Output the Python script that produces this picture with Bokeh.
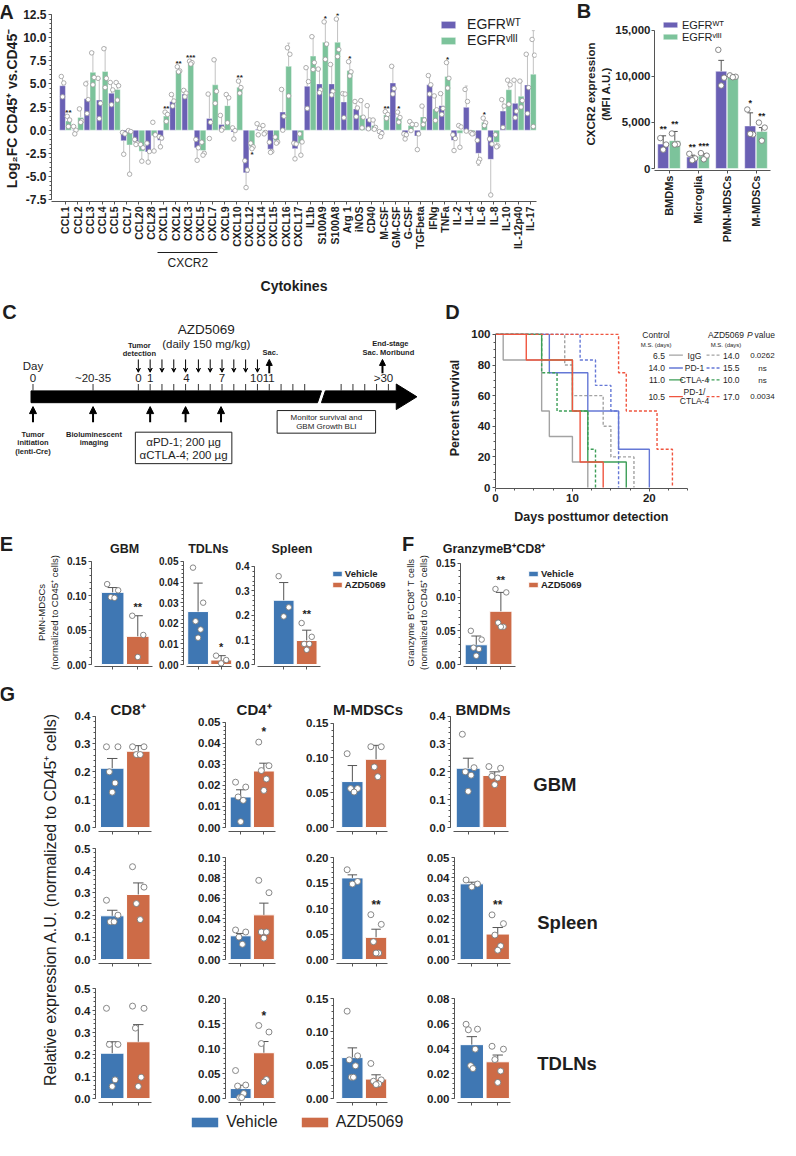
import numpy as np
from bokeh.plotting import figure
from bokeh.models import (Range1d, FixedTicker, LinearAxis, Label, Legend, LegendItem,
                          ColumnDataSource, Arrow, NormalHead, VeeHead, NumeralTickFormatter)
from bokeh.layouts import row, column
from bokeh.embed import file_html
from bokeh.resources import INLINE
from bokeh.core.properties import value

# ======================= DATA =======================
# ---- Panel A ----
A_cytokines = ["CCL1", "CCL2", "CCL3", "CCL4", "CCL5", "CCL7", "CCL20", "CCL28",
               "CXCL1", "CXCL2", "CXCL3", "CXCL5", "CXCL7", "CXCL9", "CXCL10", "CXCL12",
               "CXCL14", "CXCL15", "CXCL16", "CXCL17", "IL1b", "S100A9", "S100A8", "Arg 1",
               "iNOS", "CD40", "M-CSF", "GM-CSF", "G-CSF", "TGFbeta", "IFNg", "TNFa",
               "IL-2", "IL-4", "IL-6", "IL-8", "IL-10", "IL-12p40", "IL-17"]
A_wt_mean = [4.8, 0.05, 3.4, 3.25, 4.0, -1.15, -1.3, -2.35, -1.1, 3.1, 3.9, -1.9, 1.27, 0.6,
             -0.2, -4.6, 0.1, -2.05, 1.96, -2.0, 4.75, 5.0, 5.0, 3.05, 2.3, 1.27, -0.4, 5.1,
             -0.6, -0.62, 4.9, 2.65, -1.1, 2.47, -2.5, -3.15, 2.06, 2.9, 4.88]
A_wt_err = [1.0, 0.4, 1.9, 2.3, 1.1, 1.4, 0.3, 1.0, 0.5, 0.6, 0.5, 1.2, 2.6, 1.0, 0.8, 1.6,
            0.6, 0.4, 2.4, 1.1, 2.0, 1.6, 2.1, 0.9, 0.8, 1.35, 0.3, 1.8, 0.3, 1.5, 1.0, 1.3,
            1.1, 2.3, 1.3, 3.8, 1.3, 2.5, 3.3]
A_wt_points = [[5.8, 5.1, 3.6], [0.4, 0.0, -0.4], [5.0, 3.3, 1.8], [5.6, 2.9, 1.25],
               [5.15, 4.35, 2.75], [-0.25, -0.4, -2.6], [-1.0, -1.4, -1.55], [-1.4, -2.3, -3.45],
               [-0.7, -0.85, -1.8], [3.85, 3.15, 2.6], [4.3, 4.0, 3.6], [-1.0, -1.9, -3.25],
               [3.9, 0.85, -0.9], [1.6, 0.2, 0.0], [0.25, -0.05, -0.95], [-3.3, -4.3, -6.2],
               [0.7, 0.2, -0.5], [-1.3, -2.3, -2.4], [4.4, 1.5, 0.0], [-1.4, -1.5, -3.1],
               [6.75, 5.25, 2.35], [6.6, 4.35, 4.05], [7.1, 4.2, 3.8], [3.95, 3.9, 1.35],
               [3.1, 2.4, 1.45], [2.65, 1.1, 0.15], [-0.15, -0.35, -0.7], [6.9, 4.5, 3.9],
               [-0.4, -0.5, -0.95], [0.6, -0.4, -2.1], [5.9, 4.9, 3.9], [3.95, 2.35, 1.7],
               [-0.5, -0.9, -2.2], [4.4, 3.1, -0.1], [-1.1, -3.15, -3.45], [-0.95, -1.5, -7.0],
               [3.3, 2.6, 0.3], [5.4, 2.05, 1.35], [8.2, 4.6, 1.8]]
A_viii_mean = [1.0, 1.38, 6.25, 6.35, 4.4, -1.6, -2.27, -0.6, 1.52, 6.45, 7.25, -2.2, 4.9, 2.65,
               4.64, -1.75, -0.05, -1.15, 6.9, -1.45, 8.0, 9.5, 9.5, 6.45, 1.6, 0.5, 1.65, 1.4,
               0.5, 1.43, 2.3, 5.8, -0.33, -0.34, 0.86, -1.3, 4.37, 3.67, 6.05]
A_viii_err = [0.5, 1.0, 2.2, 2.6, 0.8, 3.1, 1.1, 1.7, 0.4, 0.4, 0.2, 0.4, 2.7, 1.2, 0.6, 0.2,
              0.4, 0.2, 2.5, 1.2, 2.1, 2.2, 2.5, 0.9, 1.6, 0.6, 0.3, 0.5, 0.4, 1.1, 1.3, 1.5,
              1.5, 0.1, 0.4, 0.5, 1.0, 1.6, 4.7]
A_viii_points = [[1.5, 1.1, 0.4], [2.3, 1.0, 0.85], [8.35, 5.7, 4.9], [8.8, 5.6, 4.6],
                 [5.15, 4.8, 3.25], [-0.05, -0.15, -4.75], [-1.55, -1.9, -3.35], [0.85, -0.5, -2.25],
                 [1.95, 1.7, 0.95], [6.85, 6.4, 6.3], [7.45, 7.3, 7.15], [-1.3, -2.5, -2.7],
                 [7.6, 4.2, 2.9], [3.85, 3.5, 0.8], [5.3, 4.6, 4.0], [-1.4, -1.8, -2.0],
                 [0.5, -0.25, -0.4], [-0.75, -1.27, -1.4], [8.9, 8.2, 3.7], [-0.4, -1.27, -2.7],
                 [10.1, 7.3, 6.55], [11.7, 9.3, 7.65], [12.0, 8.7, 7.95], [7.4, 6.3, 5.85],
                 [3.2, 1.4, 0.25], [1.1, 0.3, 0.1], [2.0, 1.7, 1.27], [1.95, 1.37, 0.86],
                 [0.93, 0.62, -0.05], [2.6, 1.1, 0.6], [3.7, 2.2, 1.05], [7.3, 5.6, 4.55],
                 [0.5, 0.35, -1.85], [-0.25, -0.35, -0.4], [1.3, 0.8, 0.5], [-0.5, -1.7, -1.8],
                 [5.4, 4.9, 2.8], [5.3, 3.2, 2.5], [9.8, 8.1, 0.4]]
A_viii_stars = {0: "**", 8: "**", 9: "**", 10: "***", 14: "**", 15: "*", 21: "*", 22: "*",
                23: "*", 26: "**", 27: "*", 31: "*", 34: "*"}
A_group = ["CXCL1", "CXCL7"]   # bracket "CXCR2" spans these categories

# ---- Panel B ----
B_cells = ["BMDMs", "Microglia", "PMN-MDSCs", "M-MDSCs"]
B_wt_mean = [2650, 1250, 10550, 4620]
B_wt_err = [900, 200, 1180, 1420]
B_wt_pts = [[3300, 2600, 2050], [1600, 1100, 900], [12870, 9850, 9000], [6400, 3700, 3760]]
B_viii_mean = [3020, 1350, 10020, 4020]
B_viii_err = [1000, 250, 150, 420]
B_viii_pts = [[3800, 2650, 2600], [1670, 1400, 1000], [10100, 9950, 9900], [4980, 4440, 3020]]
B_wt_stars = ["**", "**", "", "*"]
B_viii_stars = ["**", "***", "", "**"]

# ---- Panel C (timeline schematic) ----
C_day_labels = ["0", "~20-35", "0", "1", "4", "7", "1011", ">30"]
C_day_pos = [37, 98, 144, 156, 193, 229, 270, 393]
C_dose_pos = [144, 156, 168, 180, 192, 205, 217, 229, 241, 253, 265]
C_tick_pos = [37, 98, 144, 156, 168, 180, 192, 205, 217, 229, 241, 253, 265, 277, 289, 301,
              313, 350, 362, 374, 386, 398]
C_treat_pos = [37, 98, 156, 192, 228]

# ---- Panel D (survival) ----
D_groups = ["IgG", "PD-1", "CTLA-4", "PD-1/CTLA-4"]
D_colors = ["#a3a3a3", "#6578d6", "#3c9e57", "#f0553f"]
D_ctrl_days = [[0, 1, 6, 7, 10, 12], [0, 7, 12, 16, 20], [0, 6, 10, 12, 17], [0, 4, 10, 11, 14]]
D_ctrl_surv = [[100, 83.3, 50, 33.3, 16.7, 0], [100, 75, 50, 25, 0], [100, 83.3, 50, 16.7, 0],
               [100, 83.3, 50, 16.7, 0]]
D_azd_days = [[0, 9, 10, 14, 15, 18], [0, 11, 13, 15, 16], [0, 6, 8, 12, 13], [0, 16, 17, 21, 23]]
D_azd_surv = [[100, 80, 60, 40, 20, 0], [100, 83.3, 66.7, 50, 0], [100, 75, 50, 25, 0],
              [100, 75, 50, 25, 0]]
D_ctrl_ms = ["6.5", "14.0", "11.0", "10.5"]
D_azd_ms = ["14.0", "15.5", "10.0", "17.0"]
D_pvals = ["0.0262", "ns", "ns", "0.0034"]

# ---- Panel E ----
E_tissues = ["GBM", "TDLNs", "Spleen"]
E_veh_mean = [0.105, 0.0257, 0.262]
E_veh_err = [0.007, 0.0138, 0.072]
E_veh_pts = [[0.117, 0.108, 0.098, 0.097], [0.047, 0.030, 0.021, 0.017, 0.013], [0.36, 0.233, 0.196]]
E_azd_mean = [0.041, 0.0022, 0.098]
E_azd_err = [0.030, 0.0021, 0.042]
E_azd_pts = [[0.071, 0.043, 0.011], [0.0043, 0.0022, 0.0006], [0.169, 0.113, 0.084, 0.084, 0.060]]
E_azd_stars = ["**", "*", "**"]
E_ymax = [0.15, 0.05, 0.4]
E_ystep = [0.05, 0.01, 0.1]

# ---- Panel F ----
F_veh_mean, F_veh_err = 0.0293, 0.013
F_veh_pts = [0.050, 0.037, 0.025, 0.023, 0.013]
F_azd_mean, F_azd_err = 0.079, 0.028
F_azd_pts = [0.112, 0.107, 0.062, 0.056, 0.056]
F_star = "**"

# ---- Panel G ----
G_cells = ["CD8⁺", "CD4⁺", "M-MDSCs", "BMDMs"]
G_tissues = ["GBM", "Spleen", "TDLNs"]
G_veh_mean = [[0.213, 0.0145, 0.066, 0.213], [0.197, 0.0233, 0.160, 0.0371], [0.206, 0.020, 0.0614, 0.0431]]
G_veh_err = [[0.035, 0.0034, 0.023, 0.036], [0.025, 0.0023, 0.006, 0.0008], [0.052, 0.0066, 0.0146, 0.0064]]
G_veh_pts = [
    [[0.29, 0.29, 0.20, 0.16, 0.127], [0.0215, 0.0192, 0.0145, 0.0129, 0.0028], [0.106, 0.056, 0.056, 0.051], [0.335, 0.215, 0.20, 0.188, 0.13]],
    [[0.267, 0.20, 0.17, 0.17], [0.029, 0.027, 0.022, 0.015], [0.176, 0.153, 0.148], [0.039, 0.037, 0.0356]],
    [[0.41, 0.246, 0.246, 0.085, 0.055], [0.056, 0.027, 0.025, 0.010, 0.002, 0.002], [0.131, 0.064, 0.058, 0.049, 0.032, 0.032], [0.0594, 0.0555, 0.055, 0.0395, 0.0263, 0.024]],
]
G_azd_mean = [[0.274, 0.0268, 0.098, 0.187], [0.293, 0.0438, 0.0435, 0.0125], [0.258, 0.0916, 0.0292, 0.0294]]
G_azd_err = [[0.020, 0.0037, 0.020, 0.013], [0.052, 0.0115, 0.016, 0.0032], [0.078, 0.0224, 0.0064, 0.0054]]
G_azd_pts = [
    [[0.29, 0.29, 0.262, 0.262], [0.0405, 0.0293, 0.027, 0.023, 0.0176], [0.116, 0.116, 0.087, 0.073], [0.219, 0.213, 0.184, 0.178, 0.154]],
    [[0.418, 0.326, 0.252, 0.18], [0.0776, 0.0655, 0.027, 0.027, 0.021], [0.088, 0.069, 0.035, 0.0128, 0.0128], [0.0219, 0.0176, 0.012, 0.0067, 0.0046]],
    [[0.42, 0.41, 0.32, 0.097, 0.055], [0.146, 0.133, 0.11, 0.038, 0.033], [0.0526, 0.028, 0.026, 0.022, 0.021], [0.0418, 0.0395, 0.0312, 0.022, 0.0129]],
]
G_stars = [["", "*", "", ""], ["", "", "**", "**"], ["", "*", "", ""]]
G_ymax = [[0.4, 0.05, 0.15, 0.4], [0.5, 0.10, 0.20, 0.05], [0.5, 0.20, 0.15, 0.08]]
G_ystep = [[0.1, 0.01, 0.05, 0.1], [0.1, 0.02, 0.05, 0.01], [0.1, 0.05, 0.05, 0.02]]

# ======================= STYLE / LAYOUT =======================
S = 0.985
FONT = "Liberation Sans"
INK = "#1e1e1e"
AXC = "#555555"
WT_C = "#6a60b4"
VIII_C = "#7cc39b"
VEH = "#3f77b3"
AZD = "#cd6b47"


def R(v):
    return int(round((v - 4) * S))


def iso(p):
    """wrap a figure so that its frame is not aligned with its layout siblings"""
    return row(p)


def mkfig(box, frame, xr, yr):
    bx0, bx1, by0, by1 = box
    fx0, fx1, fy0, fy1 = frame
    p = figure(width=R(bx1) - R(bx0), height=R(by1) - R(by0), x_range=xr, y_range=yr,
               output_backend="svg", toolbar_location=None,
               min_border_left=R(fx0) - R(bx0), min_border_right=R(bx1) - R(fx1),
               min_border_top=R(fy0) - R(by0), min_border_bottom=R(by1) - R(fy1))
    p.outline_line_color = None
    p.background_fill_color = "white"
    p.border_fill_color = "white"
    for g in p.grid:
        g.visible = False
    return p


def strip(box):
    """text-only canvas whose data coordinates are the reference pixel coordinates"""
    bx0, bx1, by0, by1 = box
    p = figure(width=R(bx1) - R(bx0), height=R(by1) - R(by0), x_range=Range1d(bx0, bx1),
               y_range=Range1d(by1, by0), x_axis_type=None, y_axis_type=None, min_border=0,
               output_backend="svg", toolbar_location=None)
    p.outline_line_color = None
    p.background_fill_color = "white"
    p.border_fill_color = "white"
    return p


def axis_strip(box, cx, cy, text, size, style="bold", nlines=1):
    """narrow canvas that only carries a vertical axis title centred at (cx, cy)"""
    bx0, bx1, by0, by1 = box
    p = figure(width=R(bx1) - R(bx0), height=R(by1) - R(by0), x_range=Range1d(0, 1),
               y_range=Range1d(0, 1), x_axis_type=None, output_backend="svg",
               toolbar_location=None, min_border_left=R(bx1) - R(bx0) - 1, min_border_right=0,
               min_border_top=R(cy - 10) - R(by0), min_border_bottom=R(by1) - R(cy + 10))
    p.outline_line_color = None
    p.background_fill_color = "white"
    p.border_fill_color = "white"
    for g in p.grid:
        g.visible = False
    ay = p.yaxis[0]
    ay.ticker = FixedTicker(ticks=[])
    ay.axis_line_color = None
    ay.major_tick_line_color = None
    ay.minor_tick_line_color = None
    ay.major_tick_out = 0
    ay.minor_tick_out = 0
    ay.major_label_standoff = 0
    ay.axis_label = text
    ay.axis_label_text_font = FONT
    ay.axis_label_text_font_size = f"{size}px"
    ay.axis_label_text_font_style = style
    ay.axis_label_text_color = INK
    right_edge = cx + nlines * size * 1.2 / 2
    ay.axis_label_standoff = max(0, int(round((bx1 - 1 - right_edge) * S)))
    return p


def lab(p, frame, rx, ry, text, size, style="normal", align="center", baseline="middle",
        angle=0.0, color=INK):
    fx0, fx1, fy0, fy1 = frame
    p.add_layout(Label(x=(rx - fx0) * S, y=(fy1 - ry) * S, x_units="screen", y_units="screen",
                       text=text, angle=angle, text_font=FONT, text_font_size=f"{size}px",
                       text_font_style=style, text_align=align, text_baseline=baseline,
                       text_color=color))


def dtext(p, x, y, text, size, style="normal", align="center", baseline="middle"):
    p.text(x=[x], y=[y], text=[text], text_font=value(FONT),
           text_font_size=f"{size}px", text_font_style=style, text_align=align,
           text_baseline=baseline, text_color=INK)


def style_axis(ax, size="11px", bold=True):
    ax.axis_line_color = AXC
    ax.major_tick_line_color = AXC
    ax.minor_tick_line_color = AXC
    ax.major_tick_out = 3
    ax.major_tick_in = 0
    ax.minor_tick_out = 2
    ax.minor_tick_in = 0
    ax.major_label_text_font = FONT
    ax.major_label_text_font_size = size
    ax.major_label_text_font_style = "bold" if bold else "normal"
    ax.major_label_text_color = INK
    ax.major_label_standoff = 2
    ax.axis_label_text_font = FONT
    ax.axis_label_text_color = INK
    ax.axis_label_text_font_style = "normal"


def spread(n, s):
    base = np.linspace(-s, s, n) if n > 1 else np.array([0.0])
    order, lo, hi = [], 0, n - 1
    while lo <= hi:
        order.append(lo)
        if hi != lo:
            order.append(hi)
        lo += 1
        hi -= 1
    return [base[k] for k in order]


def err_src(xs, means, errs, cap):
    d = dict(x0=[], y0=[], x1=[], y1=[])
    for x, m, e in zip(xs, means, errs):
        end = m + e if m >= 0 else m - e
        d["x0"] += [x, x - cap]
        d["y0"] += [m, end]
        d["x1"] += [x, x + cap]
        d["y1"] += [end, end]
    return ColumnDataSource(d)


def pts_src(xs, pts, s):
    px, py = [], []
    for x, vals in zip(xs, pts):
        for o, v in zip(spread(len(vals), s), vals):
            px.append(x + o)
            py.append(v)
    return ColumnDataSource(dict(x=px, y=py))


def flat_legend(p, items, loc, gw, gh, size, lh, standoff, style="normal", spacing=0,
                orientation="vertical"):
    leg = Legend(items=[LegendItem(label=t, renderers=[r]) for t, r in items], location=loc,
                 orientation=orientation, glyph_width=gw, glyph_height=gh,
                 label_text_font=FONT, label_text_font_size=f"{size}px",
                 label_text_font_style=style, label_text_color=INK, label_height=lh,
                 label_standoff=standoff, spacing=spacing, padding=0, margin=0,
                 border_line_color=None, background_fill_alpha=0)
    p.add_layout(leg)


# ======================= PANEL A =======================
sA1 = strip((4, 24, 4, 26))
dtext(sA1, 10, 15, "A", 20, "bold")
sA2 = axis_strip((4, 24, 26, 304), 15, 114, "Log₂FC CD45⁺ vs.CD45⁻", 14, "bold")

nA = len(A_cytokines)
A_box = (24, 560, 4, 304)
A_frame = (55, 548, 17, 217)
slotA = (548 - 63) / nA
ppuA = (215 - 18) / 20.0
pA = mkfig(A_box, A_frame, Range1d(-0.5 - (63 - 55) / slotA, nA - 0.5),
           Range1d(-7.5 - (217 - 215) / ppuA, 12.5 + (18 - 17) / ppuA))
ia = np.arange(nA)
xw, xv = ia - 0.24, ia + 0.24
rwt = pA.vbar(x=xw, top=A_wt_mean, bottom=0, width=0.47, fill_color=WT_C, line_color="white", line_width=0.4)
rvi = pA.vbar(x=xv, top=A_viii_mean, bottom=0, width=0.47, fill_color=VIII_C, line_color="white", line_width=0.4)
for xs, m, e in ((xw, A_wt_mean, A_wt_err), (xv, A_viii_mean, A_viii_err)):
    pA.segment("x0", "y0", "x1", "y1", source=err_src(xs, m, e, 0.12), line_color="#c2c2c2", line_width=1)
for xs, pts in ((xw, A_wt_points), (xv, A_viii_points)):
    pA.scatter("x", "y", source=pts_src(xs, pts, 0.1), size=4.5, fill_color="white",
               line_color="#9a9a9a", line_width=0.8)
up = dict(x=[], y=[], t=[])
dn = dict(x=[], y=[], t=[])
for i, s in A_viii_stars.items():
    m, e, pts = A_viii_mean[i], A_viii_err[i], A_viii_points[i]
    if m >= 0:
        up["x"].append(xv[i]); up["y"].append(max(max(pts), m + e)); up["t"].append(s)
    else:
        dn["x"].append(xv[i]); dn["y"].append(min(min(pts), m - e)); dn["t"].append(s)
pA.text("x", "y", text="t", source=ColumnDataSource(up), text_font=value(FONT), text_font_size="8px",
        text_font_style="bold", text_align="center", text_baseline="bottom", y_offset=1, text_color=INK)
pA.text("x", "y", text="t", source=ColumnDataSource(dn), text_font=value(FONT), text_font_size="8px",
        text_font_style="bold", text_align="center", text_baseline="top", y_offset=1, text_color=INK)

axA = pA.xaxis[0]
axA.ticker = FixedTicker(ticks=list(range(nA)))
axA.major_label_overrides = {i: c for i, c in enumerate(A_cytokines)}
axA.major_label_orientation = np.pi / 2
style_axis(axA, "10.5px")
ayA = pA.yaxis[0]
ayA.ticker = FixedTicker(ticks=[float(v) for v in np.arange(-7.5, 12.51, 2.5)],
                         minor_ticks=[float(v) for v in np.arange(-7.5, 12.51, 0.5)])
ayA.formatter = NumeralTickFormatter(format="0.0")
ayA.bounds = (-7.5, 12.5)
style_axis(ayA, "12px")

g0, g1 = A_cytokines.index(A_group[0]), A_cytokines.index(A_group[1])
axC = LinearAxis(ticker=FixedTicker(ticks=[(g0 + g1) / 2]),
                 major_label_overrides={(g0 + g1) / 2: "CXCR2"}, bounds=(g0 - 0.45, g1 + 0.45),
                 axis_label="Cytokines")
style_axis(axC, "12px", bold=False)
axC.axis_line_color = INK
axC.major_tick_out = 0
axC.major_label_standoff = 3
axC.axis_label_text_font_size = "14px"
axC.axis_label_text_font_style = "bold"
axC.axis_label_standoff = 5
pA.add_layout(axC, "below")
flat_legend(pA, [("EGFRᵂᵀ", rwt), ("EGFRᵛᴵᴵᴵ", rvi)], ((449 - 55) * S, (217 - 62) * S),
            18, 9, 14, 16, 10)

# ======================= PANEL B =======================
sB1 = strip((560, 625, 4, 30))
dtext(sB1, 596, 14, "B", 20, "bold")
sB2 = axis_strip((560, 625, 30, 304), 611, 99, "CXCR2 expression\n(MFI A.U.)", 11.5, "bold", nlines=2)

B_box = (625, 796, 4, 304)
B_frame = (665, 786, 18, 177)
ppuB = (175 - 34) / 15000.0
pB = mkfig(B_box, B_frame, Range1d(-0.5, 3.5),
           Range1d(-(177 - 175) / ppuB, 15000 + (34 - 18) / ppuB))
ib = np.arange(len(B_cells))
bw, bv = ib - 0.2, ib + 0.2
rbw = pB.vbar(x=bw, top=B_wt_mean, bottom=0, width=0.38, fill_color=WT_C, line_color="white", line_width=0.5)
rbv = pB.vbar(x=bv, top=B_viii_mean, bottom=0, width=0.38, fill_color=VIII_C, line_color="white", line_width=0.5)
for xs, m, e in ((bw, B_wt_mean, B_wt_err), (bv, B_viii_mean, B_viii_err)):
    pB.segment("x0", "y0", "x1", "y1", source=err_src(xs, m, e, 0.1), line_color="#555555", line_width=1)
for xs, pts in ((bw, B_wt_pts), (bv, B_viii_pts)):
    pB.scatter("x", "y", source=pts_src(xs, pts, 0.1), size=5.5, fill_color="white",
               line_color="#7a7a7a", line_width=0.9)
sb = dict(x=[], y=[], t=[])
for xs, m, e, pts, st in ((bw, B_wt_mean, B_wt_err, B_wt_pts, B_wt_stars),
                          (bv, B_viii_mean, B_viii_err, B_viii_pts, B_viii_stars)):
    for k in range(len(xs)):
        if st[k]:
            sb["x"].append(xs[k]); sb["y"].append(max(max(pts[k]), m[k] + e[k])); sb["t"].append(st[k])
pB.text("x", "y", text="t", source=ColumnDataSource(sb), text_font=value(FONT), text_font_size="9px",
        text_font_style="bold", text_align="center", text_baseline="bottom", y_offset=-2, text_color=INK)
axB = pB.xaxis[0]
axB.ticker = FixedTicker(ticks=list(range(len(B_cells))))
axB.major_label_overrides = {i: c for i, c in enumerate(B_cells)}
axB.major_label_orientation = np.pi / 2
style_axis(axB, "11px")
ayB = pB.yaxis[0]
ayB.ticker = FixedTicker(ticks=[0, 5000, 10000, 15000])
ayB.formatter = NumeralTickFormatter(format="0,0")
ayB.bounds = (0, 15000)
style_axis(ayB, "11.5px")
ayB.major_label_standoff = 1
flat_legend(pB, [("EGFRᵂᵀ", rbw), ("EGFRᵛᴵᴵᴵ", rbv)], ((672 - 665) * S, (177 - 48) * S),
            18, 7, 11, 12, 3)

# ======================= PANEL C =======================
pC = strip((4, 455, 304, 542))
pC.patch([35, 330, 326, 35], [400, 400, 412, 412], color="black")
pC.patch([334, 406, 406, 427, 406, 406, 330], [400, 400, 393, 406, 419, 412, 412], color="black")
pC.segment(x0=C_tick_pos, y0=[393] * len(C_tick_pos), x1=C_tick_pos, y1=[400] * len(C_tick_pos),
           line_color="#333333", line_width=1)
dsrc = ColumnDataSource(dict(x0=C_dose_pos, y0=[368] * len(C_dose_pos), x1=C_dose_pos, y1=[381] * len(C_dose_pos)))
pC.add_layout(Arrow(end=VeeHead(size=4, line_color="black", fill_color="black", line_width=1),
                    x_start="x0", y_start="y0", x_end="x1", y_end="y1", source=dsrc,
                    line_color="black", line_width=1))
for xx in (277, 392):
    pC.add_layout(Arrow(end=NormalHead(size=6, line_color="black", fill_color="black"),
                        x_start=xx, y_start=382, x_end=xx, y_end=368, line_width=2, line_color="black"))
tsrc = ColumnDataSource(dict(x0=C_treat_pos, y0=[432] * len(C_treat_pos), x1=C_treat_pos, y1=[416] * len(C_treat_pos)))
pC.add_layout(Arrow(end=NormalHead(size=7, line_color="black", fill_color="black"),
                    x_start="x0", y_start="y0", x_end="x1", y_end="y1", source=tsrc,
                    line_color="black", line_width=2))
pC.text(x=C_day_pos, y=[387] * len(C_day_pos), text=C_day_labels, text_font=value(FONT),
        text_font_size="11.5px", text_align="center", text_baseline="middle", text_color=INK)
dtext(pC, 13, 320, "C", 20, "bold")
dtext(pC, 213, 338, "AZD5069", 13.5)
dtext(pC, 213, 352, "(daily 150 mg/kg)", 11.5)
dtext(pC, 145, 354, "Tumor", 7.5, "bold")
dtext(pC, 145, 362, "detection", 7.5, "bold")
dtext(pC, 278, 361, "Sac.", 7.5, "bold")
dtext(pC, 400, 352, "End-stage", 7.5, "bold")
dtext(pC, 398, 361, "Sac. Moribund", 7.5, "bold")
dtext(pC, 37, 375, "Day", 11.5)
for k, t in enumerate(["Tumor", "initiation", "(lenti-Cre)"]):
    dtext(pC, 37, 444 + 9 * k, t, 7.5, "bold")
for k, t in enumerate(["Bioluminescent", "imaging"]):
    dtext(pC, 99, 444 + 9 * k, t, 7.5, "bold")
pC.quad(left=[141], right=[239], top=[442], bottom=[474], fill_color=None, line_color="#222222", line_width=1)
dtext(pC, 190, 452, "αPD-1; 200 µg", 11.5)
dtext(pC, 190, 465, "αCTLA-4; 200 µg", 11.5)
pC.quad(left=[285], right=[385], top=[420], bottom=[443], fill_color=None, line_color="#222222", line_width=1)
dtext(pC, 335, 427, "Monitor survival and", 8)
dtext(pC, 335, 436.5, "GBM Growth BLI", 8)

# ======================= PANEL D =======================
sDt = strip((455, 796, 304, 333))
dtext(sDt, 463, 320, "D", 20, "bold")
sDb = strip((455, 796, 518, 542))
dtext(sDb, 604, 528, "Days posttumor detection", 12.5, "bold")

D_box = (455, 796, 333, 518)
D_frame = (507, 796, 336, 499)
day_px = (702 - 507) / 25.0
pct_px = (498 - 343) / 100.0
pD = mkfig(D_box, D_frame, Range1d(0, (796 - 507) / day_px),
           Range1d(-(499 - 498) / pct_px, 100 + (343 - 336) / pct_px))
for k in range(len(D_groups)):
    pD.step(D_ctrl_days[k], D_ctrl_surv[k], mode="after", line_color=D_colors[k], line_width=1.4)
    pD.step(D_azd_days[k], D_azd_surv[k], mode="after", line_color=D_colors[k], line_width=1.4,
            line_dash="3 2")
axD = pD.xaxis[0]
axD.ticker = FixedTicker(ticks=[0, 10, 20], minor_ticks=[2.5, 5, 7.5, 12.5, 15, 17.5, 22.5, 25])
axD.bounds = (0, 25)
style_axis(axD, "11.5px")
ayD = pD.yaxis[0]
ayD.ticker = FixedTicker(ticks=[0, 20, 40, 60, 80, 100], minor_ticks=list(range(0, 101, 5)))
ayD.bounds = (0, 100)
style_axis(ayD, "11.5px")
ayD.axis_label = "Percent survival"
ayD.axis_label_text_font_size = "12.5px"
ayD.axis_label_text_font_style = "bold"
ayD.axis_label_standoff = 6
lab(pD, D_frame, 670, 343, "Control", 8.5)
lab(pD, D_frame, 670, 353, "M.S. (days)", 6)
lab(pD, D_frame, 741, 343, "AZD5069", 8.5)
lab(pD, D_frame, 741, 353, "M.S. (days)", 6)
lab(pD, D_frame, 768, 343, "P", 8.5, "italic", align="right")
lab(pD, D_frame, 770, 343, "value", 8.5, align="left")
D_row_y = [364, 377, 389, 406]
for k in range(len(D_groups)):
    yy = D_row_y[k]
    lab(pD, D_frame, 679, yy, D_ctrl_ms[k], 8.5, align="right")
    lab(pD, D_frame, 738, yy, D_azd_ms[k], 8.5, align="left")
    lab(pD, D_frame, 778, yy, D_pvals[k], 8)
    name = D_groups[k]
    if "/" in name:
        a, b = name.split("/")
        lab(pD, D_frame, 709, yy - 5, a + "/", 8.5)
        lab(pD, D_frame, 709, yy + 4.5, b, 8.5)
    else:
        lab(pD, D_frame, 709, yy, name, 8.5)
    ly = (498 - yy) / pct_px
    pD.segment(x0=[(683 - 507) / day_px], y0=[ly], x1=[(697 - 507) / day_px], y1=[ly],
               line_color=D_colors[k], line_width=1.4)
    pD.segment(x0=[(721 - 507) / day_px], y0=[ly], x1=[(735 - 507) / day_px], y1=[ly],
               line_color=D_colors[k], line_width=1.4, line_dash="3 2")


# ======================= small bar helper (E, F, G) =======================
def small_bar(box, frame, zero, tick_top, ymax, ystep, c1, unit, vm, ve, vp, am, ae, ap, star,
              xbound=2.55, tick_size="11px", star_size="11px", pt_size=5.5):
    fx0, fx1, fy0, fy1 = frame
    ppu = (zero - tick_top) / ymax
    xs = 1 - (c1 - fx0) / unit
    xe = xs + (fx1 - fx0) / unit
    p = mkfig(box, frame, Range1d(xs, xe),
              Range1d(-(fy1 - zero) / ppu, ymax + (tick_top - fy0) / ppu))
    rv = p.vbar(x=[1], top=[vm], bottom=0, width=0.9, fill_color=VEH, line_color="white", line_width=1)
    ra = p.vbar(x=[2], top=[am], bottom=0, width=0.9, fill_color=AZD, line_color="white", line_width=1)
    p.segment("x0", "y0", "x1", "y1", source=err_src([1, 2], [vm, am], [ve, ae], 0.2),
              line_color="#555555", line_width=1)
    p.scatter("x", "y", source=pts_src([1, 2], [vp, ap], 0.22), size=pt_size, fill_color="white",
              line_color="#7a7a7a", line_width=0.9)
    if star:
        p.text(x=[2], y=[max(max(ap), am + ae)], text=[star], text_font=value(FONT),
               text_font_size=star_size, text_font_style="bold", text_align="center",
               text_baseline="bottom", y_offset=-3, text_color=INK)
    ay = p.yaxis[0]
    nmaj = int(round(ymax / ystep))
    ticks = [round(k * ystep, 6) for k in range(nmaj + 1)]
    minor = [round(k * ystep / 5, 6) for k in range(nmaj * 5 + 1)]
    ay.ticker = FixedTicker(ticks=ticks, minor_ticks=minor)
    ay.formatter = NumeralTickFormatter(format="0.0" if ystep >= 0.1 else "0.00")
    ay.bounds = (0, ymax)
    style_axis(ay, tick_size)
    ax = p.xaxis[0]
    ax.ticker = FixedTicker(ticks=[], minor_ticks=[1, 2])
    style_axis(ax, tick_size)
    ax.minor_tick_out = 3
    ax.bounds = (xs + 3 / unit, xbound)
    return p, rv, ra


# ======================= PANELS E & F =======================
sEt = strip((4, 796, 542, 567))
dtext(sEt, 10, 555, "E", 20, "bold")
dtext(sEt, 418, 555, "F", 20, "bold")
E_title_x = [130, 215, 300]
for k in range(3):
    dtext(sEt, E_title_x[k], 560, E_tissues[k], 12.5, "bold")
dtext(sEt, 505, 560, "GranzymeB⁺CD8⁺", 12.5, "bold")

E_box = [(4, 162, 567, 697), (162, 240, 567, 697), (240, 400, 567, 697)]
E_frame = [(96, 160, 570, 680), (188, 239, 570, 680), (258, 400, 570, 680)]
E_tick_top = [573, 573, 578]
E_c1 = [117.5, 203.5, 288.5]
E_unit = [25.5, 24.5, 24.0]
E_figs = []
for k in range(3):
    p, rv, ra = small_bar(E_box[k], E_frame[k], 678, E_tick_top[k], E_ymax[k], E_ystep[k], E_c1[k],
                          E_unit[k], E_veh_mean[k], E_veh_err[k], E_veh_pts[k], E_azd_mean[k],
                          E_azd_err[k], E_azd_pts[k], E_azd_stars[k], xbound=2.6, tick_size="10px",
                          star_size="11px")
    if k == 0:
        ay = p.yaxis[0]
        ay.axis_label = "PMN-MDSCs\n(normalized to CD45⁺ cells)"
        ay.axis_label_text_font_size = "9.5px"
        ay.axis_label_text_font_style = "normal"
        ay.axis_label_standoff = 4
    if k == 2:
        flat_legend(p, [("Vehicle", rv), ("AZD5069", ra)], ((336 - 258) * S, (680 - 603) * S),
                    12, 7, 9.5, 10, 2, style="bold")
    E_figs.append(p)

F_box = (400, 796, 567, 697)
F_frame = (471, 796, 570, 680)
pF, rfv, rfa = small_bar(F_box, F_frame, 678, 575, 0.15, 0.05, 487, 25, F_veh_mean, F_veh_err,
                         F_veh_pts, F_azd_mean, F_azd_err, F_azd_pts, F_star, xbound=2.6,
                         tick_size="10px")
pF.yaxis[0].axis_label = "Granzyme B⁺CD8⁺ T cells\n(normalized to CD45⁺ cells)"
pF.yaxis[0].axis_label_text_font_size = "9.5px"
pF.yaxis[0].axis_label_text_font_style = "normal"
pF.yaxis[0].axis_label_standoff = 4
flat_legend(pF, [("Vehicle", rfv), ("AZD5069", rfa)], ((539 - 471) * S, (680 - 603) * S),
            12, 7, 9.5, 10, 2, style="bold")

# ======================= PANEL G =======================
G_box_x = [(72, 202), (202, 312), (312, 434), (434, 796)]
G_frame_x = [(100, 160), (230, 287), (340, 432), (461, 640)]
G_c1 = [117, 246, 359.5, 479]
G_unit = [26.5, 24.5, 24.5, 27]
G_row_box = [(697, 856), (856, 992), (992, 1131)]
G_row_zero = [844, 978, 1118.5]
G_row_top = [[731, 737, 738, 731], [865, 874, 874, 874], [1007, 1017, 1017, 1017]]
G_title_x = [133, 259, 375, 494]
G_tissue_y = [800, 940, 1083]
G_rows = []
for r in range(3):
    figs = []
    for c in range(4):
        box = (G_box_x[c][0], G_box_x[c][1], G_row_box[r][0], G_row_box[r][1])
        ftop = 705 if r == 0 else G_row_top[r][c]
        frame = (G_frame_x[c][0], G_frame_x[c][1], ftop, G_row_zero[r] + 4)
        p, rv, ra = small_bar(box, frame, G_row_zero[r], G_row_top[r][c], G_ymax[r][c], G_ystep[r][c],
                              G_c1[c], G_unit[c], G_veh_mean[r][c], G_veh_err[r][c], G_veh_pts[r][c],
                              G_azd_mean[r][c], G_azd_err[r][c], G_azd_pts[r][c], G_stars[r][c],
                              xbound=2.5, tick_size="11.5px", star_size="12px", pt_size=6)
        if r == 0:
            lab(p, frame, G_title_x[c], 724, G_cells[c], 15, "bold")
        if c == 3:
            lab(p, frame, 545, G_tissue_y[r], G_tissues[r], 18.5, "bold", align="left")
        figs.append(iso(p))
    G_rows.append(row(*figs))

sG1 = strip((4, 72, 697, 720))
dtext(sG1, 11, 708, "G", 20, "bold")
sG2 = axis_strip((4, 72, 720, 1154), 53, 917, "Relative expression A.U. (normalized to CD45⁺ cells)",
                 16, "normal")

pLg = strip((72, 796, 1131, 1154))
rlv = pLg.vbar(x=[5000], top=[5000], width=0.5, fill_color=VEH, line_color=None)
rla = pLg.vbar(x=[5000], top=[5000], width=0.5, fill_color=AZD, line_color=None)
flat_legend(pLg, [("Vehicle", rlv), ("AZD5069", rla)], ((195 - 72) * S, 2), 33, 12, 16, 15, 5,
            spacing=20, orientation="horizontal")

# ======================= ASSEMBLE =======================
band1 = row(column(iso(sA1), iso(sA2)), iso(pA), column(iso(sB1), iso(sB2)), iso(pB))
band2 = row(iso(pC), column(iso(sDt), iso(pD), iso(sDb)))
band3 = column(iso(sEt), row(*[iso(p) for p in E_figs], iso(pF)))
band4 = row(column(iso(sG1), iso(sG2)), column(*G_rows, iso(pLg)))
page = column(band1, band2, band3, band4)
open("out.html", "w").write(file_html(page, INLINE, "Figure"))
